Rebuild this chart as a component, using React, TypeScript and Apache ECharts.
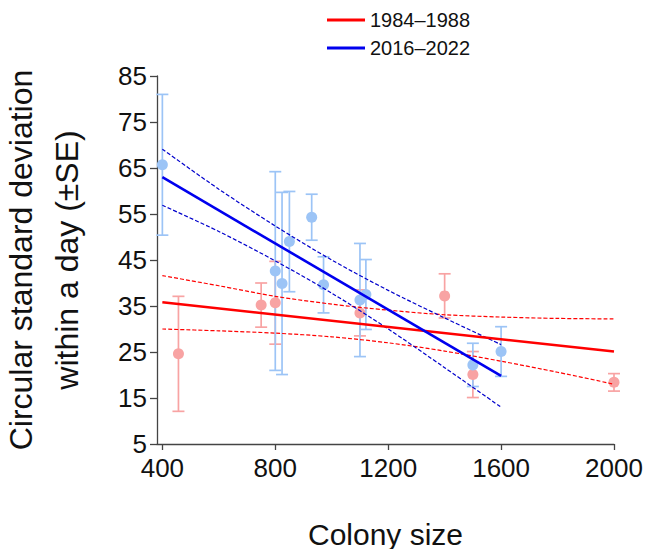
import React, { useEffect, useRef } from "react";
import * as echarts from "echarts";

// ---- data ----
const xTickValues = [400, 800, 1200, 1600, 2000];

// 1984–1988 (red)
const earlyX = [457, 750, 800, 1100, 1400, 1500, 2000];
const earlyMean = [24.6, 35.2, 35.7, 33.5, 37.2, 20.1, 18.4];
const earlySE = [12.5, 4.8, 9.0, 5.0, 4.8, 5.0, 1.9];

// 2016–2022 (blue)
const recentX = [400, 800, 824, 850, 929, 971, 1100, 1121, 1500, 1600];
const recentMean = [65.7, 42.6, 39.9, 49.0, 54.3, 39.6, 36.3, 37.5, 22.2, 25.1];
const recentSE = [15.3, 21.6, 19.8, 10.9, 5.0, 6.1, 12.3, 7.6, 4.7, 5.4];

// regression fits (end points)
const earlyFitX = [400, 2000];
const earlyFitY = [35.8, 25.1];
const recentFitX = [400, 1600];
const recentFitY = [63.0, 19.8];

// confidence bands
const earlyBandX = [400, 600, 800, 1000, 1200, 1400, 1600, 1800, 2000];
const earlyUpper = [41.6, 39.4, 37.1, 35.4, 34.1, 33.1, 32.6, 32.3, 32.2];
const earlyLower = [30.0, 29.6, 29.1, 28.3, 27.0, 25.2, 23.0, 20.6, 18.0];

const recentBandX = [400, 600, 800, 1000, 1200, 1400, 1600];
const recentUpper = [69.1, 60.4, 52.4, 45.0, 38.4, 32.4, 26.6];
const recentLower = [56.9, 51.2, 44.8, 37.8, 30.0, 21.6, 13.0];

const EARLY_LABEL = "1984–1988";
const RECENT_LABEL = "2016–2022";

const RED = "#ff0000";
const BLUE = "#0000ee";
const PINK = "#f8a3a3";
const LIGHTBLUE = "#9cc4f6";
const AXIS = "#444444";
const FONT = "Arial, 'Liberation Sans', sans-serif";

const zip = (xs: number[], ys: number[]) => xs.map((x, i) => [x, ys[i]]);

function errorBarSeries(name: string, xs: number[], means: number[], ses: number[], color: string) {
  return {
    name,
    type: "custom",
    z: 2,
    data: xs.map((x, i) => [x, means[i] - ses[i], means[i] + ses[i]]),
    encode: { x: 0, y: [1, 2] },
    renderItem: (_params: any, api: any) => {
      const x = api.value(0);
      const lo = api.value(1);
      const hi = api.value(2);
      const pHi = api.coord([x, hi]);
      const pLo = api.coord([x, lo]);
      const half = 6;
      const style = { stroke: color, lineWidth: 1.7, fill: "none" };
      return {
        type: "group",
        children: [
          { type: "line", shape: { x1: pHi[0], y1: pHi[1], x2: pLo[0], y2: pLo[1] }, style },
          { type: "line", shape: { x1: pHi[0] - half, y1: pHi[1], x2: pHi[0] + half, y2: pHi[1] }, style },
          { type: "line", shape: { x1: pLo[0] - half, y1: pLo[1], x2: pLo[0] + half, y2: pLo[1] }, style },
        ],
      };
    },
  };
}

function bandSeries(name: string, xs: number[], ys: number[], color: string) {
  return {
    name,
    type: "line",
    z: 4,
    data: zip(xs, ys),
    showSymbol: false,
    smooth: 0.3,
    lineStyle: { color, width: 1.2, type: [4, 2] },
    itemStyle: { color },
  };
}

export default function App() {
  const ref = useRef<HTMLDivElement>(null);

  useEffect(() => {
    if (!ref.current) return;
    const chart = echarts.init(ref.current, undefined, { renderer: "svg" });
    chart.setOption({
      animation: false,
      backgroundColor: "#ffffff",
      textStyle: { fontFamily: FONT },
      legend: {
        orient: "vertical",
        left: 327,
        top: 10,
        padding: 0,
        itemGap: 8,
        itemWidth: 38,
        itemHeight: 3,
        icon: "rect",
        data: [EARLY_LABEL, RECENT_LABEL],
        textStyle: { fontSize: 20, color: "#111", fontFamily: FONT },
        selectedMode: false,
      },
      grid: { left: 157, right: 32, top: 76, bottom: 105, containLabel: false, outerBoundsMode: "none" },
      xAxis: {
        type: "value",
        min: 381,
        max: 2000,
        name: "Colony size",
        nameLocation: "middle",
        nameGap: 75,
        nameTextStyle: { fontSize: 30, color: "#111", fontFamily: FONT },
        axisLine: { show: true, lineStyle: { color: AXIS, width: 1.3 } },
        axisTick: { show: true, length: 6, lineStyle: { color: AXIS, width: 1.3 }, customValues: xTickValues },
        axisLabel: {
          fontSize: 26,
          color: "#111",
          margin: 11,
          customValues: xTickValues,
          fontFamily: FONT,
          formatter: (v: number) => String(v),
        },
        splitLine: { show: false },
      },
      yAxis: {
        type: "value",
        min: 5,
        max: 85,
        interval: 10,
        name: "Circular standard deviation\nwithin a day (±SE)",
        nameLocation: "middle",
        nameGap: 67,
        nameRotate: 90,
        nameTextStyle: { fontSize: 32, color: "#111", lineHeight: 46, fontFamily: FONT },
        axisLine: { show: true, lineStyle: { color: AXIS, width: 1.3 } },
        axisTick: { show: true, length: 7, lineStyle: { color: AXIS, width: 1.3 } },
        axisLabel: { fontSize: 26, color: "#111", margin: 10, fontFamily: FONT, formatter: (v: number) => String(v) },
        splitLine: { show: false },
      },
      series: [
        errorBarSeries("earlyErr", earlyX, earlyMean, earlySE, PINK),
        {
          name: "earlyPts",
          type: "scatter",
          z: 2,
          symbolSize: 11,
          data: zip(earlyX, earlyMean),
          itemStyle: { color: PINK, opacity: 1 },
        },
        errorBarSeries("recentErr", recentX, recentMean, recentSE, LIGHTBLUE),
        {
          name: "recentPts",
          type: "scatter",
          z: 2,
          symbolSize: 11,
          data: zip(recentX, recentMean),
          itemStyle: { color: LIGHTBLUE, opacity: 1 },
        },
        bandSeries("earlyUpper", earlyBandX, earlyUpper, RED),
        bandSeries("earlyLower", earlyBandX, earlyLower, RED),
        bandSeries("recentUpper", recentBandX, recentUpper, "#0000cc"),
        bandSeries("recentLower", recentBandX, recentLower, "#0000cc"),
        {
          name: EARLY_LABEL,
          type: "line",
          z: 5,
          data: zip(earlyFitX, earlyFitY),
          showSymbol: false,
          lineStyle: { color: RED, width: 2.6 },
          itemStyle: { color: RED },
        },
        {
          name: RECENT_LABEL,
          type: "line",
          z: 5,
          data: zip(recentFitX, recentFitY),
          showSymbol: false,
          lineStyle: { color: BLUE, width: 2.6 },
          itemStyle: { color: BLUE },
        },
      ],
    });
    return () => chart.dispose();
  }, []);

  return (
    <div
      ref={ref}
      style={{ position: "fixed", left: 0, top: 0, width: 646, height: 549, background: "#fff" }}
    />
  );
}
